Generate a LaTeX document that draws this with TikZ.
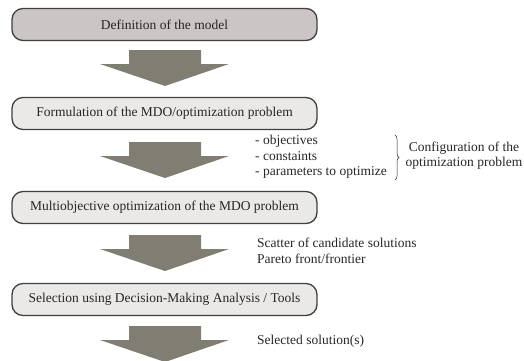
\documentclass[tikz,border=0pt]{standalone}
\usepackage{fontspec}
\setmainfont{Liberation Serif}
\usetikzlibrary{decorations.pathreplacing}
\definecolor{boxdark}{HTML}{CBC5C5}
\definecolor{boxlight}{HTML}{EBE8E8}
\definecolor{boxline}{HTML}{404040}
\definecolor{arrowfill}{HTML}{807E72}
\definecolor{txt}{HTML}{262626}
\tikzset{
  stagebox/.style={draw=boxline, line width=1.3pt, rounded corners=11pt, fill=boxlight,
    minimum width=305pt, minimum height=32pt, inner sep=0pt, text=txt,
    font=\fontsize{13.5}{15.5}\selectfont},
  sidetext/.style={anchor=west, align=left, inner sep=0pt, text=txt,
    font=\fontsize{13.5}{15.5}\selectfont},
  blockarrow/.style={fill=arrowfill, draw=none}
}
\newcommand{\blockarr}[1]{%
  \fill[blockarrow] (129,-#1) -- (201,-#1) -- (201,-#1-14) -- (229,-#1-14)
    -- (165,-#1-36) -- (100,-#1-14) -- (129,-#1-14) -- cycle;}
\begin{document}
\begin{tikzpicture}[x=1pt,y=1pt]
\useasboundingbox (0,0) rectangle (524,-360);
\node[stagebox, fill=boxdark] (b1) at (164.5,-24.5) {Definition of the model};
\node[stagebox] (b2) at (164.5,-113.5) {Formulation of the MDO/optimization problem};
\node[stagebox] (b3) at (164.5,-207.5) {Multiobjective optimization of the MDO problem};
\node[stagebox] (b4) at (164.5,-299.5) {Selection using Decision-Making Analysis / Tools};
\blockarr{50}
\blockarr{142}
\blockarr{235}
\blockarr{326}
\node[sidetext] (cfg) at (255,-157) {- objectives\\- constaints\\- parameters to optimize};
\draw[decorate, decoration={brace, amplitude=4pt}, line width=0.5pt, txt] (395,-135) -- (395,-180);
\node[align=center, inner sep=0pt, text=txt, font=\fontsize{13.5}{15.5}\selectfont] (conf) at (464,-155.5) {Configuration of the\\optimization problem};
\node[sidetext] (pareto) at (257,-251) {Scatter of candidate solutions\\Pareto front/frontier};
\node[sidetext] (sel) at (257,-341) {Selected solution(s)};
\end{tikzpicture}
\end{document}
